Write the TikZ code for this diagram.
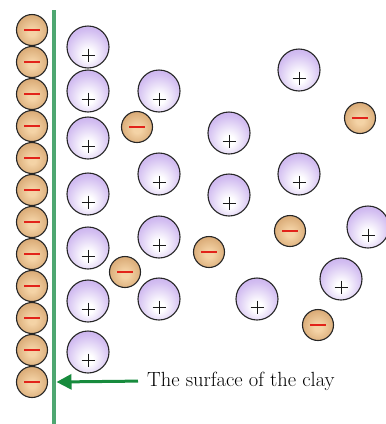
\documentclass[tikz,border=0pt]{standalone}
\usepackage{tikz}
\usetikzlibrary{positioning,calc,arrows.meta}
\definecolor{posc}{HTML}{B08BE6}
\definecolor{negc}{HTML}{C48A50}
\definecolor{negin}{HTML}{F4D3A6}
\definecolor{clayc}{HTML}{4EA771}
\definecolor{arrc}{HTML}{178B3D}
\definecolor{minc}{HTML}{E2231A}
\pgfdeclareradialshading{posshade}{\pgfpoint{0bp}{-10bp}}{color(0bp)=(white); color(6bp)=(white); color(26bp)=(posc!55!white); color(50bp)=(posc); color(70bp)=(posc)}
\pgfdeclareradialshading{negshade}{\pgfpoint{0bp}{-4bp}}{color(0bp)=(negin); color(6bp)=(negin); color(44bp)=(negc); color(70bp)=(negc)}

\begin{document}
\begin{tikzpicture}[x=1pt,y=-1pt,
    cation/.style={circle, draw=black!85, line width=1.1pt, minimum size=42pt, inner sep=0pt,
                shading=posshade,
                path picture={\draw[black!90, line width=1pt]
                  ($(path picture bounding box.center)+(-6.5pt,-8pt)$) -- ++(13pt,0pt)
                  ($(path picture bounding box.center)+(0pt,-1.5pt)$) -- ++(0pt,-13pt);}},
    anion/.style={circle, draw=black!85, line width=1.1pt, minimum size=31pt, inner sep=0pt,
                shading=negshade,
                path picture={\draw[minc, line width=2.2pt]
                  ($(path picture bounding box.center)+(-8pt,0pt)$) -- ++(16pt,0pt);}}]
  \useasboundingbox (0,0) rectangle (386,424);
  % clay surface with the bound anions
  \foreach \i in {0,...,11}{\node[anion] (s\i) at (32,30+\i*32){};}
  \draw[clayc, line width=4.5pt] (54,10) coordinate (ctop) -- (54,424) coordinate (cbot);
  % cations near the surface
  \foreach \y [count=\i] in {47,91,138,194,248,301,352}{\node[cation] (p\i) at (88,\y){};}
  % free ions in the solution
  \foreach \x/\y [count=\i] in {159/91,159/174,159/237,159/299,229/133,229/195,257/299,
                                299/70,299/174,368/227,341/279}{\node[cation] (q\i) at (\x,\y){};}
  \foreach \x/\y [count=\i] in {137/127,125/272,209/252,290/231,360/118,318/325}{\node[anion] (n\i) at (\x,\y){};}
  % label
  \node[anchor=west, font=\fontsize{20.5}{24}\selectfont, inner sep=0pt] (lab) at (147,381) {The surface of the clay};
  \coordinate (hit) at (56.5,382);
  \draw[arrc, line width=3pt, shorten <=9pt, -{Triangle[length=15pt,width=15pt]}] (lab.west) -- (hit);
\end{tikzpicture}
\end{document}
